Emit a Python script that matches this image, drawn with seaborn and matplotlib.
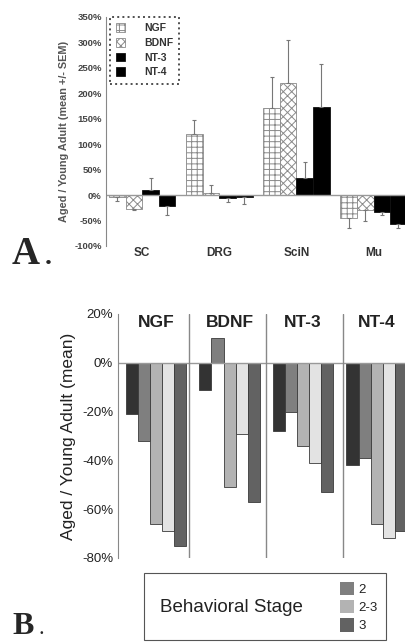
import numpy as np
import pandas as pd
import seaborn as sns
import matplotlib
matplotlib.use("Agg")
import matplotlib.pyplot as plt
from matplotlib.patches import Rectangle, Patch

# ---- panel A data (aged / young adult, % mean +/- SEM)
tissues = ["SC", "DRG", "SciN", "Mu"]
factors = ["NGF", "BDNF", "NT-3", "NT-4"]
ngf_a = [-4, 120, 172, -45]
bdnf_a = [-27, 4, 220, -30]
nt3_a = [10, -6, 33, -34]
nt4_a = [-22, -3, 173, -57]
ngf_sem = [8, 28, 60, 20]
bdnf_sem = [3, 15, 85, 20]
nt3_sem = [23, 8, 32, 6]
nt4_sem = [17, 15, 85, 7]

# ---- panel B data (aged / young adult, % mean by behavioral stage)
stages = ["1-2", "2", "2-3", "2-3b", "3"]
ngf_b = [-21, -32, -66, -69, -75]
bdnf_b = [-11, 10, -51, -29, -57]
nt3_b = [-28, -20, -34, -41, -53]
nt4_b = [-42, -39, -66, -72, -69]

sns.set_theme(style="white")
plt.rcParams["font.family"] = ["Liberation Sans", "DejaVu Sans"]
plt.rcParams["hatch.linewidth"] = 0.7

W, H = 406, 642
fig = plt.figure(figsize=(W / 100, H / 100), dpi=100)


def px_axes(x0, y0, x1, y1):
    return fig.add_axes([x0 / W, 1 - y1 / H, (x1 - x0) / W, (y1 - y0) / H])


# ================= panel A =================
axA = px_axes(106, 17, 406, 246)
vals = [ngf_a, bdnf_a, nt3_a, nt4_a]
sems = [ngf_sem, bdnf_sem, nt3_sem, nt4_sem]
dfA = pd.DataFrame({
    "tissue": np.repeat([tissues], 4, axis=0).ravel(),
    "factor": np.repeat(factors, 4),
    "value": np.concatenate(vals),
})
sns.barplot(data=dfA, x="tissue", y="value", hue="factor", order=tissues,
            hue_order=factors, width=0.86, errorbar=None, ax=axA,
            palette=["white", "white", "black", "black"], legend=False)

styles = [("+++", "#8a8a8a", "white"), ("xxxx", "#8a8a8a", "white"),
          ("", "#111111", "black"), ("", "#111111", "black")]
for cont, (hatch, ec, fc), sem in zip(axA.containers, styles, sems):
    for bar, e in zip(cont, sem):
        bar.set_facecolor(fc)
        bar.set_edgecolor(ec)
        bar.set_hatch(hatch)
        bar.set_linewidth(0.6)
        x = bar.get_x() + bar.get_width() / 2
        v = bar.get_height()
        lo, hi = (e, 0) if v < 0 else (0, e)
        axA.errorbar(x, v, yerr=[[lo], [hi]], fmt="none", ecolor="#777777",
                     elinewidth=0.8, capsize=1.5, capthick=0.8)

axA.axhline(0, color="#999999", lw=1)
axA.set_ylim(-100, 350)
axA.set_xlim(-0.47, 3.42)
axA.set_yticks(np.arange(-100, 351, 50))
axA.set_yticklabels([f"{t}%" for t in range(-100, 351, 50)],
                    fontsize=6.8, fontweight="bold", color="#444444")
axA.tick_params(axis="y", length=2, width=0.6, color="#777777", pad=1)
axA.tick_params(axis="x", length=0, pad=1)
axA.set_xticks(range(4))
axA.set_xticklabels(tissues, fontsize=8.5, fontweight="bold", color="#333333")
axA.set_xlabel("")
axA.set_ylabel("Aged / Young Adult (mean +/- SEM)", fontsize=7.8,
               fontweight="bold", color="#555555", labelpad=4)
for s in ["top", "right", "bottom"]:
    axA.spines[s].set_visible(False)
axA.spines["left"].set_color("#888888")
axA.spines["left"].set_linewidth(0.8)

handles = [Patch(facecolor=fc, edgecolor=ec, hatch=h, lw=0.6)
           for h, ec, fc in styles]
legA = axA.legend(handles, factors, loc="upper left",
                  bbox_to_anchor=(0.012, 1.0),
                  prop={"weight": "bold", "size": 7.5}, frameon=True,
                  fancybox=False, borderpad=0.6, labelspacing=0.45,
                  handlelength=0.9, handleheight=0.9, handletextpad=1.8,
                  borderaxespad=0)
legA.get_frame().set_edgecolor("#222222")
legA.get_frame().set_linestyle(":")
legA.get_frame().set_linewidth(1.4)
for t in legA.get_texts():
    t.set_color("#333333")

fig.text(12 / W, 1 - 264 / H, "A", fontsize=28, fontweight="bold",
         family="Liberation Serif", va="baseline")
fig.text(45 / W, 1 - 264 / H, ".", fontsize=20, fontweight="bold",
         family="Liberation Serif", va="baseline")

# ================= panel B =================
axB = px_axes(118, 314, 406, 558)
groups = ["NGF", "BDNF", "NT-3", "NT-4"]
valsB = [ngf_b, bdnf_b, nt3_b, nt4_b]
dfB = pd.DataFrame({
    "group": np.repeat(groups, 5),
    "stage": np.tile(stages, 4),
    "value": np.concatenate(valsB),
})
grays = ["#333333", "#7f7f7f", "#b3b3b3", "#e3e3e3", "#626262"]
sns.barplot(data=dfB, x="group", y="value", hue="stage", order=groups,
            hue_order=stages, palette=grays, width=0.82, errorbar=None,
            edgecolor="#3a3a3a", linewidth=0.6, ax=axB, legend=False)
axB.axhline(0, color="#999999", lw=1)
for xd in [0.45, 1.5, 2.54]:
    axB.axvline(xd, color="#888888", lw=1)
axB.set_ylim(-80, 20)
axB.set_xlim(-0.517, 3.40)
axB.set_yticks(np.arange(-80, 21, 20))
axB.set_yticklabels([f"{t}%" for t in range(-80, 21, 20)],
                    fontsize=9.5, color="#222222")
axB.tick_params(axis="y", length=2.5, width=0.6, color="#777777", pad=1)
axB.set_xticks([])
axB.set_xlabel("")
axB.set_ylabel("Aged / Young Adult (mean)", fontsize=12.5, color="#222222",
               labelpad=4)
for s in ["top", "right", "bottom"]:
    axB.spines[s].set_visible(False)
axB.spines["left"].set_color("#888888")
axB.spines["left"].set_linewidth(0.8)
for i, g in enumerate(groups):
    axB.text(i, 16.5, g, ha="center", va="center", fontsize=12.5,
             fontweight="bold", color="#222222")

# legend box for panel B
fig.patches.append(Rectangle((144 / W, 1 - 640 / H), (386 - 144) / W,
                             (640 - 573) / H, transform=fig.transFigure,
                             fill=False, edgecolor="#555555", lw=0.8))
fig.text(160 / W, 1 - 607 / H, "Behavioral Stage", fontsize=13.5,
         color="#222222", va="center")
legB = fig.legend([Patch(facecolor=grays[i], edgecolor="none") for i in (1, 2, 4)],
                  ["2", "2-3", "3"], loc="center left",
                  bbox_to_anchor=(328 / W, 1 - 607 / H), frameon=False,
                  fontsize=9.5, handlelength=1.1, handleheight=1.2,
                  handletextpad=0.3, labelspacing=0.3)
for t in legB.get_texts():
    t.set_color("#222222")

fig.text(12 / W, 1 - 634 / H, "B", fontsize=23, fontweight="bold",
         family="Liberation Serif", va="baseline")
fig.text(39 / W, 1 - 634 / H, ".", fontsize=16,
         family="Liberation Serif", va="baseline")

fig.savefig("out.png", dpi=100)
